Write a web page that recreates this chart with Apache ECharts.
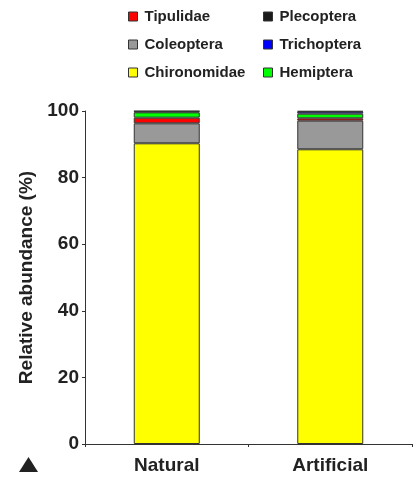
<!DOCTYPE html>
<html>
<head>
<meta charset="utf-8">
<script src="https://cdn.jsdelivr.net/npm/echarts@6/dist/echarts.min.js"></script>
<style>
  html, body { margin: 0; padding: 0; background: #fff; }
  #chart { width: 419px; height: 480px; }
</style>
</head>
<body>
<div id="chart"></div>
<script>
// data, stacked bottom to top
var sites = ['Natural', 'Artificial']
var chironomidae = [90.3, 88.5]
var coleoptera = [6.0, 8.6]
var tipulidae = [1.7, 0.7]
var hemiptera = [1.6, 1.4]
var trichoptera = [0.3, 0.6]
var plecoptera = [0.1, 0.2]
var yTicks = [0, 20, 40, 60, 80, 100]

var font = 'Liberation Sans, Arial, sans-serif'
var chart = echarts.init(document.getElementById('chart'))

function bar(name, data, color) {
  return {
    name: name,
    type: 'bar',
    stack: 'total',
    data: data,
    barWidth: 66,
    itemStyle: { color: color, borderColor: '#333', borderWidth: 1 },
    animation: false
  }
}

var legendCommon = {
  orient: 'vertical',
  top: 4,
  icon: 'rect',
  itemWidth: 9,
  itemHeight: 9,
  itemGap: 13,
  textStyle: { fontFamily: font, fontSize: 15, fontWeight: 'bold', color: '#222', padding: [0, 0, 0, 2] },
  itemStyle: { borderColor: '#333', borderWidth: 1 }
}

chart.setOption({
  backgroundColor: '#fff',
  legend: [
    Object.assign({ left: 123, data: ['Tipulidae', 'Coleoptera', 'Chironomidae'] }, legendCommon),
    Object.assign({ left: 258, data: ['Plecoptera', 'Trichoptera', 'Hemiptera'] }, legendCommon)
  ],
  grid: { left: 85, top: 111, width: 327, height: 333 },
  xAxis: {
    type: 'category',
    data: sites,
    axisLine: { lineStyle: { color: '#333', width: 1 } },
    axisTick: { show: true, length: 3, lineStyle: { color: '#333' } },
    axisLabel: { fontFamily: font, fontSize: 19, fontWeight: 'bold', color: '#222', margin: 12 }
  },
  yAxis: {
    type: 'value',
    min: 0,
    max: yTicks[yTicks.length - 1],
    interval: 20,
    name: 'Relative abundance (%)',
    nameLocation: 'middle',
    nameGap: 46,
    nameTextStyle: { fontFamily: font, fontSize: 19, fontWeight: 'bold', color: '#222' },
    splitLine: { show: false },
    axisLine: { show: true, lineStyle: { color: '#333', width: 1 } },
    axisTick: { show: true, length: 3, lineStyle: { color: '#333' } },
    axisLabel: { fontFamily: font, fontSize: 19, fontWeight: 'bold', color: '#222', margin: 6 }
  },
  graphic: [{
    type: 'polygon',
    shape: { points: [[19, 472], [38, 472], [28.5, 457]] },
    style: { fill: '#222' }
  }],
  series: [
    bar('Chironomidae', chironomidae, '#ffff00'),
    bar('Coleoptera', coleoptera, '#999999'),
    bar('Tipulidae', tipulidae, '#ff0000'),
    bar('Hemiptera', hemiptera, '#00ff00'),
    bar('Trichoptera', trichoptera, '#0000ff'),
    bar('Plecoptera', plecoptera, '#1a1a1a')
  ]
})
</script>
</body>
</html>
